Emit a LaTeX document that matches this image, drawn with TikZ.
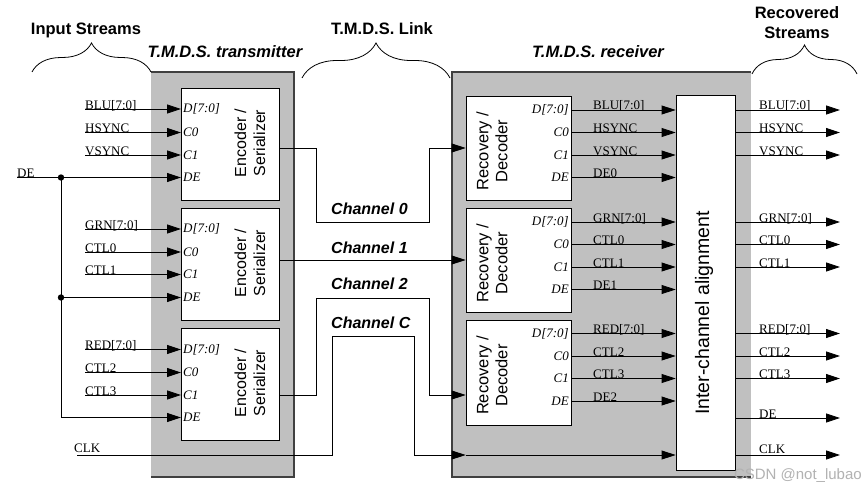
\documentclass[tikz,border=0pt]{standalone}
\usepackage{fontspec}
\setmainfont{Liberation Serif}
\setsansfont{Liberation Sans}
\usepackage{xcolor}
\usetikzlibrary{arrows.meta,decorations.pathreplacing}
\definecolor{boxgray}{RGB}{192,192,192}

\begin{document}
\begin{tikzpicture}[x=1pt,y=1pt,yscale=-1,xscale=1,
    sig/.style={line width=0.8pt,-{Triangle[length=14pt,width=9pt]}},
    lbl/.style={font=\fontsize{13}{13}\selectfont,inner sep=0pt,anchor=base west},
    port/.style={font=\fontsize{13}{13}\selectfont\itshape,inner sep=2pt},
    blk/.style={draw,fill=white,line width=0.8pt,inner sep=0pt},
    blktxt/.style={font=\fontsize{16}{19}\sffamily\selectfont,align=center,rotate=90},
    hdr/.style={font=\fontsize{16.5}{20}\sffamily\bfseries\selectfont,align=center,inner sep=0pt},
    chn/.style={font=\fontsize{16}{16}\sffamily\bfseries\itshape\selectfont,inner sep=0pt,anchor=base west},
    brc/.style={decorate,decoration={brace,amplitude=29pt},line width=0.8pt},
    rim/.style={line width=1.3pt,draw=black!75}]
    \fill[white] (0,0) rectangle (865,487);
    \useasboundingbox (0,0) rectangle (865,487);
    % transmitter and receiver
    \fill[boxgray] (151,72) rectangle (294,477);
    \draw[rim] (151,72) -- (294,72) -- (294,477) -- (151,477);
    \fill[boxgray] (452,72) rectangle (751,477);
    \draw[rim] (751,72) -- (452,72) -- (452,477) -- (751,477);
    \node[hdr,anchor=base,font=\fontsize{16.5}{20}\sffamily\bfseries\itshape\selectfont] (tx) at (225,58) {T.M.D.S. transmitter};
    \node[hdr,anchor=base,font=\fontsize{16.5}{20}\sffamily\bfseries\itshape\selectfont] (rx) at (598,58) {T.M.D.S. receiver};
    \node[hdr,anchor=base] (instr) at (86,35) {Input Streams};
    \node[hdr,anchor=base] (link) at (382,35) {T.M.D.S. Link};
    \node[hdr,anchor=north] (recstr) at (797,6) {Recovered\\Streams};
    \draw[brc] (32,72) -- (151,72);
    \draw[brc,decoration={amplitude=35pt}] (302,78) -- (450,78);
    \draw[brc] (752,74) -- (857,74);
    % encoders
    \node[blk,minimum width=98pt,minimum height=112pt] (enc1) at (230,144) {};
    \node[blk,minimum width=98pt,minimum height=112pt] (enc2) at (230,264) {};
    \node[blk,minimum width=98pt,minimum height=112pt] (enc3) at (230,384) {};
    \node[blktxt] (enc1t) at (250,143) {Encoder /\\Serializer};
    \node[blktxt] (enc2t) at (250,263) {Encoder /\\Serializer};
    \node[blktxt] (enc3t) at (250,383) {Encoder /\\Serializer};
    \node[port,anchor=west] (e1d) at (181,109) {D[7:0]};
    \node[port,anchor=west] (e1c0) at (181,132.5) {C0};
    \node[port,anchor=west] (e1c1) at (181,155) {C1};
    \node[port,anchor=west] (e1de) at (181,177.5) {DE};
    \node[port,anchor=west] (e2d) at (181,229) {D[7:0]};
    \node[port,anchor=west] (e2c0) at (181,252) {C0};
    \node[port,anchor=west] (e2c1) at (181,274.5) {C1};
    \node[port,anchor=west] (e2de) at (181,297.5) {DE};
    \node[port,anchor=west] (e3d) at (181,349.5) {D[7:0]};
    \node[port,anchor=west] (e3c0) at (181,372.5) {C0};
    \node[port,anchor=west] (e3c1) at (181,395) {C1};
    \node[port,anchor=west] (e3de) at (181,417.5) {DE};
    % input streams
    \node[lbl] (blu) at (85,109) {BLU[7:0]};
    \node[lbl] (hsync) at (85,132.5) {HSYNC};
    \node[lbl] (vsync) at (85,155) {VSYNC};
    \node[lbl] (grn) at (85,229) {GRN[7:0]};
    \node[lbl] (ctl0) at (85,252) {CTL0};
    \node[lbl] (ctl1) at (85,274.5) {CTL1};
    \node[lbl] (red) at (85,349.5) {RED[7:0]};
    \node[lbl] (ctl2) at (85,372.5) {CTL2};
    \node[lbl] (ctl3) at (85,395) {CTL3};
    \node[lbl] (de) at (17,177.5) {DE};
    \node[lbl] (clk) at (74,452) {CLK};
    \draw[sig] (blu.base west) -- (e1d.west);
    \draw[sig] (hsync.base west) -- (e1c0.west);
    \draw[sig] (vsync.base west) -- (e1c1.west);
    \draw[sig] (grn.base west) -- (e2d.west);
    \draw[sig] (ctl0.base west) -- (e2c0.west);
    \draw[sig] (ctl1.base west) -- (e2c1.west);
    \draw[sig] (red.base west) -- (e3d.west);
    \draw[sig] (ctl2.base west) -- (e3c0.west);
    \draw[sig] (ctl3.base west) -- (e3c1.west);
    \coordinate (dej1) at (61,177.5);
    \coordinate (dej2) at (61,297.5);
    \draw[sig] (de.base west) -- (e1de.west);
    \draw[sig] (dej1) |- (e3de.west);
    \draw[sig] (dej2) -- (e2de.west);
    \fill (dej1) circle (3.2pt);
    \fill (dej2) circle (3.2pt);
    % decoders
    \node[blk,minimum width=105pt,minimum height=104pt] (dec1) at (518.5,148) {};
    \node[blk,minimum width=105pt,minimum height=104pt] (dec2) at (518.5,260) {};
    \node[blk,minimum width=105pt,minimum height=105pt] (dec3) at (518.5,372.5) {};
    \node[blktxt,font=\fontsize{16.5}{19}\sffamily\selectfont] (dec1t) at (492,151) {Recovery /\\Decoder};
    \node[blktxt,font=\fontsize{16.5}{19}\sffamily\selectfont] (dec2t) at (492,263) {Recovery /\\Decoder};
    \node[blktxt,font=\fontsize{16.5}{19}\sffamily\selectfont] (dec3t) at (492,375.5) {Recovery /\\Decoder};
    \node[port,anchor=east] (d1d) at (571,110) {D[7:0]};
    \node[port,anchor=east] (d1c0) at (571,132.5) {C0};
    \node[port,anchor=east] (d1c1) at (571,155) {C1};
    \node[port,anchor=east] (d1de) at (571,177.5) {DE};
    \node[port,anchor=east] (d2d) at (571,222) {D[7:0]};
    \node[port,anchor=east] (d2c0) at (571,244.5) {C0};
    \node[port,anchor=east] (d2c1) at (571,267) {C1};
    \node[port,anchor=east] (d2de) at (571,289.5) {DE};
    \node[port,anchor=east] (d3d) at (571,333.5) {D[7:0]};
    \node[port,anchor=east] (d3c0) at (571,356) {C0};
    \node[port,anchor=east] (d3c1) at (571,378.5) {C1};
    \node[port,anchor=east] (d3de) at (571,401) {DE};
    % alignment
    \node[blk,minimum width=59pt,minimum height=375pt] (align) at (705.5,282.5) {};
    \node[blktxt,font=\fontsize{19.5}{20}\sffamily\selectfont] (alignt) at (704,313) {Inter-channel alignment};
    \draw[sig] (d1d.east) -- (align.west |- d1d.east);
    \draw[sig] (d1c0.east) -- (align.west |- d1c0.east);
    \draw[sig] (d1c1.east) -- (align.west |- d1c1.east);
    \draw[sig] (d1de.east) -- (align.west |- d1de.east);
    \draw[sig] (d2d.east) -- (align.west |- d2d.east);
    \draw[sig] (d2c0.east) -- (align.west |- d2c0.east);
    \draw[sig] (d2c1.east) -- (align.west |- d2c1.east);
    \draw[sig] (d2de.east) -- (align.west |- d2de.east);
    \draw[sig] (d3d.east) -- (align.west |- d3d.east);
    \draw[sig] (d3c0.east) -- (align.west |- d3c0.east);
    \draw[sig] (d3c1.east) -- (align.west |- d3c1.east);
    \draw[sig] (d3de.east) -- (align.west |- d3de.east);
    \node[lbl] (rblu) at (593,110) {BLU[7:0]};
    \node[lbl] (rhsync) at (593,132.5) {HSYNC};
    \node[lbl] (rvsync) at (593,155) {VSYNC};
    \node[lbl] (rde0) at (593,177.5) {DE0};
    \node[lbl] (rgrn) at (593,222) {GRN[7:0]};
    \node[lbl] (rctl0) at (593,244.5) {CTL0};
    \node[lbl] (rctl1) at (593,267) {CTL1};
    \node[lbl] (rde1) at (593,289.5) {DE1};
    \node[lbl] (rred) at (593,333.5) {RED[7:0]};
    \node[lbl] (rctl2) at (593,356) {CTL2};
    \node[lbl] (rctl3) at (593,378.5) {CTL3};
    \node[lbl] (rde2) at (593,401) {DE2};
    % link
    \coordinate (clkin) at (77,455);
    \draw[sig] (enc1.east |- dec1.west) -| (316,222) -| (429,148) -- (dec1.west);
    \draw[sig] (enc2.east |- dec2.west) -- (dec2.west);
    \draw[sig] (enc3.east |- e3c1.west) -| (316,298) -| (429,395) -- (dec3.west |- e3c1.west);
    \draw[sig] (clkin) -| (332,336) -| (414,455) -- (dec3.west |- clkin);
    \draw[sig] (dec3.west |- clkin) -- (align.west |- clkin);
    \node[chn] (ch0) at (331,214) {Channel 0};
    \node[chn] (ch1) at (331,253) {Channel 1};
    \node[chn] (ch2) at (331,289) {Channel 2};
    \node[chn] (chc) at (331,328) {Channel C};
    % recovered streams
    \coordinate (outx) at (840,0);
    \coordinate (deout) at (735,418);
    \draw[sig] (align.east |- d1d.east) -- (outx |- d1d.east);
    \draw[sig] (align.east |- d1c0.east) -- (outx |- d1c0.east);
    \draw[sig] (align.east |- d1c1.east) -- (outx |- d1c1.east);
    \draw[sig] (align.east |- d2d.east) -- (outx |- d2d.east);
    \draw[sig] (align.east |- d2c0.east) -- (outx |- d2c0.east);
    \draw[sig] (align.east |- d2c1.east) -- (outx |- d2c1.east);
    \draw[sig] (align.east |- d3d.east) -- (outx |- d3d.east);
    \draw[sig] (align.east |- d3c0.east) -- (outx |- d3c0.east);
    \draw[sig] (align.east |- d3c1.east) -- (outx |- d3c1.east);
    \draw[sig] (deout) -- (outx |- deout);
    \draw[sig] (align.east |- clkin) -- (outx |- clkin);
    \node[lbl] (oblu) at (759,110) {BLU[7:0]};
    \node[lbl] (ohsync) at (759,132.5) {HSYNC};
    \node[lbl] (ovsync) at (759,155) {VSYNC};
    \node[lbl] (ogrn) at (759,222) {GRN[7:0]};
    \node[lbl] (octl0) at (759,244.5) {CTL0};
    \node[lbl] (octl1) at (759,267) {CTL1};
    \node[lbl] (ored) at (759,333.5) {RED[7:0]};
    \node[lbl] (octl2) at (759,356) {CTL2};
    \node[lbl] (octl3) at (759,378.5) {CTL3};
    \node[lbl] (ode) at (759,418) {DE};
    \node[lbl] (oclk) at (759,453) {CLK};
    \node[font=\fontsize{15}{15}\sffamily\selectfont,text=black!30,anchor=base east,inner sep=0pt] (wm) at (862,479) {CSDN @not\_lubao};
\end{tikzpicture}
\end{document}
